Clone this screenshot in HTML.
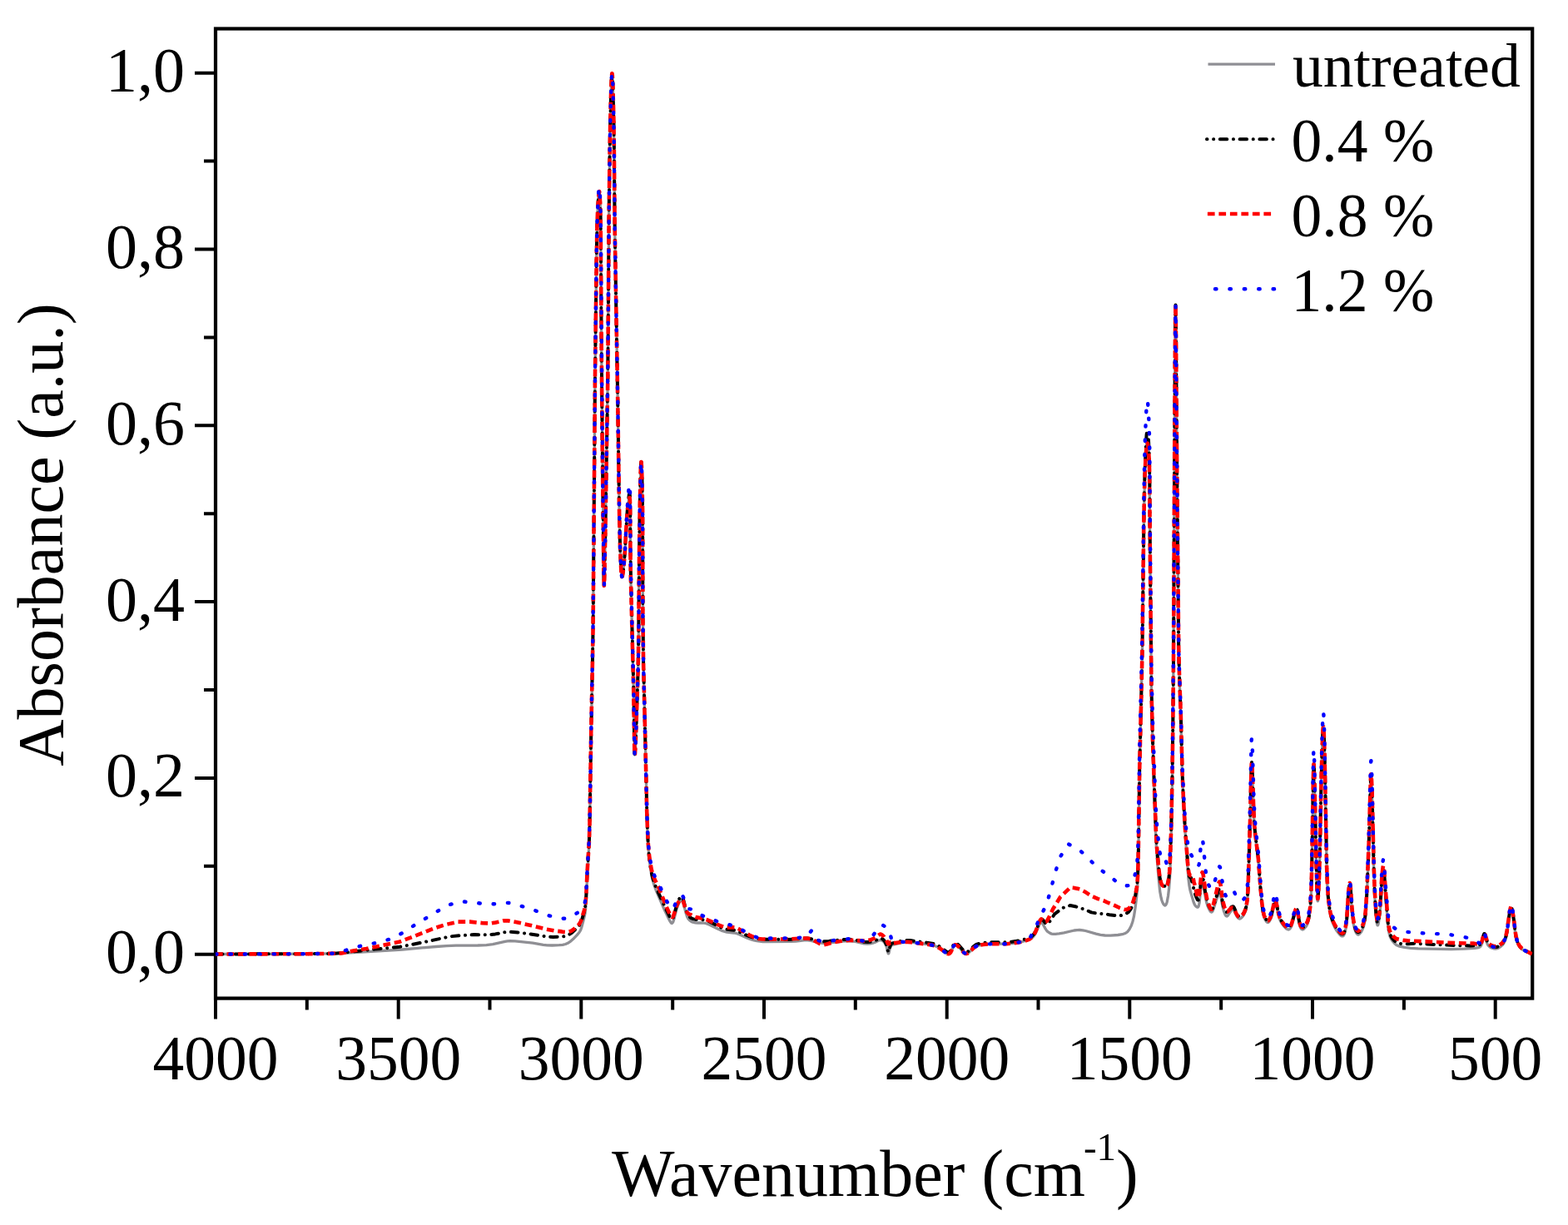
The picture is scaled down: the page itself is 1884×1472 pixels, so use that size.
<!DOCTYPE html><html><head><meta charset="utf-8"><title>FTIR spectra</title><style>html,body{margin:0;padding:0;background:#fff;overflow:hidden}svg{display:block}</style></head><body><svg width="1884" height="1472" viewBox="0 0 1884 1472"><defs><clipPath id="c"><rect x="259.0" y="34.5" width="1582.2" height="1165.1"/></clipPath></defs><rect width="1884" height="1472" fill="#fff"/><rect x="259.0" y="34.5" width="1582.2" height="1165.1" fill="none" stroke="#000" stroke-width="4.2"/><path d="M234.0,1146.7H259.0M245.0,1040.8H259.0M234.0,934.9H259.0M245.0,829.0H259.0M234.0,723.1H259.0M245.0,617.2H259.0M234.0,511.3H259.0M245.0,405.4H259.0M234.0,299.5H259.0M245.0,193.6H259.0M234.0,87.7H259.0M259.0,1199.6V1224.6M368.8,1199.6V1213.6M478.7,1199.6V1224.6M588.5,1199.6V1213.6M698.3,1199.6V1224.6M808.2,1199.6V1213.6M918.0,1199.6V1224.6M1027.8,1199.6V1213.6M1137.7,1199.6V1224.6M1247.5,1199.6V1213.6M1357.3,1199.6V1224.6M1467.2,1199.6V1213.6M1577.0,1199.6V1224.6M1686.9,1199.6V1213.6M1796.7,1199.6V1224.6" stroke="#000" stroke-width="4" fill="none"/><text x="222" y="1169.2" font-family="Liberation Serif, serif" font-size="76" text-anchor="end">0,0</text><text x="222" y="957.4" font-family="Liberation Serif, serif" font-size="76" text-anchor="end">0,2</text><text x="222" y="745.6" font-family="Liberation Serif, serif" font-size="76" text-anchor="end">0,4</text><text x="222" y="533.8" font-family="Liberation Serif, serif" font-size="76" text-anchor="end">0,6</text><text x="222" y="322.0" font-family="Liberation Serif, serif" font-size="76" text-anchor="end">0,8</text><text x="222" y="110.2" font-family="Liberation Serif, serif" font-size="76" text-anchor="end">1,0</text><text x="259.0" y="1297" font-family="Liberation Serif, serif" font-size="75.5" text-anchor="middle">4000</text><text x="478.7" y="1297" font-family="Liberation Serif, serif" font-size="75.5" text-anchor="middle">3500</text><text x="698.3" y="1297" font-family="Liberation Serif, serif" font-size="75.5" text-anchor="middle">3000</text><text x="918.0" y="1297" font-family="Liberation Serif, serif" font-size="75.5" text-anchor="middle">2500</text><text x="1137.7" y="1297" font-family="Liberation Serif, serif" font-size="75.5" text-anchor="middle">2000</text><text x="1357.3" y="1297" font-family="Liberation Serif, serif" font-size="75.5" text-anchor="middle">1500</text><text x="1577.0" y="1297" font-family="Liberation Serif, serif" font-size="75.5" text-anchor="middle">1000</text><text x="1796.7" y="1297" font-family="Liberation Serif, serif" font-size="75.5" text-anchor="middle">500</text><text transform="translate(75,642.5) rotate(-90)" font-family="Liberation Serif, serif" font-size="78" text-anchor="middle">Absorbance (a.u.)</text><text x="735" y="1437.4" font-family="Liberation Serif, serif" font-size="80">Wavenumber (cm<tspan font-size="47" dx="-2" dy="-43.5">-1</tspan><tspan dy="43.5">)</tspan></text><g clip-path="url(#c)"><path d="M259.0,1146.5 370.0,1146.2 395.8,1145.9 412.0,1145.4 433.6,1144.2 483.3,1141.0 523.9,1137.5 536.5,1136.6 547.9,1136.1 574.3,1136.0 584.4,1135.6 592.2,1134.7 606.8,1131.4 609.8,1130.9 612.8,1130.7 618.8,1130.9 633.1,1132.3 640.2,1133.2 652.7,1135.3 657.4,1135.8 663.4,1136.0 671.8,1135.7 676.0,1135.3 679.5,1134.5 682.3,1133.3 684.8,1131.7 688.5,1128.6 693.5,1123.4 696.1,1120.2 697.6,1117.6 699.0,1113.6 701.9,1102.6 703.0,1097.3 703.7,1091.3 704.3,1081.8 705.6,1053.0 707.7,1017.6 708.5,994.9 710.2,884.5 711.9,798.1 712.6,753.7 715.0,450.7 716.7,310.9 717.5,269.5 718.1,253.3 718.9,239.0 719.8,230.6 720.0,230.0 720.2,230.5 720.5,232.2 721.2,244.8 721.7,265.2 722.6,406.8 723.7,526.2 725.5,696.0 725.8,703.8 726.1,699.4 727.4,636.5 730.3,452.3 731.7,255.5 732.6,182.9 733.2,148.7 734.0,115.1 734.7,95.9 735.3,88.2 735.5,88.4 735.8,90.8 736.3,101.0 737.4,143.5 737.8,174.1 738.7,275.5 742.3,485.5 744.1,614.5 745.0,655.3 746.3,685.2 746.8,690.6 747.3,692.9 747.7,692.6 748.0,691.5 748.8,686.1 749.8,676.6 750.7,665.8 752.9,626.3 753.8,613.7 754.6,606.6 755.8,599.5 756.1,598.3 756.5,598.1 756.9,600.5 757.2,612.5 757.4,659.3 757.8,692.3 761.2,826.6 762.3,899.8 762.5,905.8 762.7,907.0 762.9,906.4 763.5,897.5 764.3,877.1 766.7,803.3 767.3,764.9 768.1,661.7 768.7,613.1 769.7,566.9 770.1,556.8 770.4,555.0 770.6,555.6 771.0,562.2 771.4,574.7 772.1,613.1 772.4,739.1 773.1,797.3 775.5,897.5 777.3,977.3 778.0,1000.7 778.9,1018.1 780.0,1031.2 781.4,1043.1 783.2,1053.2 785.4,1061.9 788.2,1069.8 798.9,1094.6 804.7,1106.4 806.3,1109.0 806.8,1109.3 807.3,1109.5 808.2,1108.8 808.8,1107.7 809.9,1104.3 812.6,1093.8 814.5,1088.1 816.0,1084.8 817.2,1082.8 818.0,1081.9 818.5,1081.5 819.1,1081.5 819.9,1082.3 820.9,1084.5 824.0,1096.7 825.5,1101.3 826.6,1103.4 827.7,1104.9 828.9,1106.2 830.4,1107.2 832.5,1108.2 835.5,1108.8 838.5,1109.0 845.1,1109.0 848.6,1109.7 852.5,1111.2 862.7,1116.3 868.2,1118.7 873.4,1120.1 881.8,1121.0 885.3,1121.7 888.6,1123.0 897.9,1127.2 901.9,1128.7 905.9,1129.9 909.4,1130.7 913.0,1131.2 916.6,1131.5 921.3,1131.6 950.1,1131.3 956.1,1131.0 966.3,1129.9 970.5,1129.9 974.6,1130.4 984.5,1132.9 989.3,1133.4 995.3,1133.0 1012.6,1131.1 1017.4,1130.8 1021.6,1130.8 1027.5,1131.4 1038.1,1133.8 1042.3,1134.1 1045.8,1133.8 1048.8,1133.2 1051.6,1132.2 1056.4,1129.8 1058.2,1129.5 1059.3,1129.8 1060.9,1130.7 1062.2,1132.0 1063.6,1133.9 1065.0,1137.2 1066.7,1144.2 1067.3,1145.9 1067.8,1145.8 1068.0,1145.2 1069.2,1139.9 1069.9,1137.7 1070.5,1136.6 1071.4,1135.8 1073.1,1135.2 1083.0,1132.8 1087.1,1132.1 1090.1,1131.9 1094.3,1132.2 1114.0,1134.7 1118.7,1135.5 1122.2,1136.3 1125.0,1137.3 1127.7,1138.6 1130.3,1140.2 1136.4,1145.0 1138.0,1145.9 1139.7,1146.3 1140.8,1145.9 1142.1,1144.6 1143.2,1142.5 1145.4,1137.6 1146.4,1136.1 1147.3,1135.3 1148.5,1135.3 1150.1,1136.0 1151.5,1137.2 1156.6,1143.1 1158.3,1144.8 1159.8,1145.7 1161.6,1146.0 1162.7,1145.6 1164.2,1144.6 1169.8,1139.2 1171.7,1137.7 1173.8,1136.6 1176.7,1135.8 1182.0,1134.9 1188.6,1134.4 1195.2,1134.2 1208.4,1134.2 1215.6,1133.7 1220.9,1133.0 1226.8,1131.8 1232.0,1130.5 1236.0,1129.1 1239.7,1127.1 1241.1,1126.0 1242.6,1124.2 1244.7,1120.5 1249.1,1110.6 1250.1,1109.1 1251.0,1108.5 1251.6,1108.6 1252.1,1108.9 1252.8,1109.9 1256.2,1116.2 1257.2,1117.7 1258.4,1119.1 1260.3,1120.5 1261.8,1121.4 1263.5,1122.1 1265.3,1122.4 1268.3,1122.3 1272.5,1121.9 1278.4,1120.8 1290.7,1118.0 1294.2,1117.6 1297.2,1117.5 1300.8,1117.8 1304.3,1118.5 1317.0,1122.2 1322.3,1123.4 1327.6,1124.0 1334.2,1124.1 1343.2,1123.5 1348.5,1122.7 1351.9,1121.5 1353.5,1120.6 1354.9,1119.4 1357.1,1116.6 1359.3,1112.3 1361.0,1107.2 1362.4,1101.4 1364.0,1091.3 1365.6,1078.8 1366.5,1068.7 1367.1,1057.3 1367.8,1028.5 1369.3,922.9 1372.5,781.3 1374.3,637.4 1374.9,597.8 1375.6,572.6 1376.5,550.4 1377.5,536.0 1377.9,531.9 1378.4,530.1 1378.8,530.3 1379.2,532.1 1380.0,539.8 1380.7,551.8 1381.1,566.2 1381.7,650.2 1383.5,832.6 1384.8,887.2 1388.4,997.5 1389.4,1017.9 1390.5,1035.2 1392.2,1056.8 1393.7,1071.1 1395.1,1078.8 1395.9,1081.7 1396.9,1084.5 1398.1,1086.6 1399.3,1087.9 1399.9,1088.0 1400.4,1087.8 1400.8,1087.3 1401.6,1085.7 1402.3,1083.4 1403.6,1076.3 1404.7,1066.8 1405.5,1055.4 1406.2,1038.6 1407.0,1013.5 1408.3,952.3 1409.2,886.3 1409.9,802.9 1411.7,450.7 1412.1,390.7 1412.5,369.1 1412.9,393.5 1414.2,567.5 1416.2,779.3 1416.8,805.7 1418.9,866.2 1420.3,922.0 1421.5,953.2 1423.2,986.1 1424.6,1008.3 1427.9,1055.6 1428.9,1063.9 1430.0,1069.8 1434.0,1083.6 1435.4,1087.0 1436.7,1088.9 1438.2,1090.0 1438.8,1090.1 1439.4,1090.0 1439.8,1089.6 1440.3,1088.5 1441.2,1084.4 1442.3,1071.9 1443.2,1064.7 1444.2,1060.6 1444.5,1060.1 1445.0,1060.2 1445.5,1061.3 1446.0,1063.6 1448.3,1077.8 1449.8,1084.8 1450.9,1088.3 1452.3,1091.6 1453.7,1094.3 1454.8,1095.6 1455.3,1095.9 1455.9,1096.0 1456.4,1095.6 1457.1,1094.6 1458.2,1091.9 1461.0,1082.7 1462.9,1077.6 1463.9,1075.4 1464.6,1074.5 1465.1,1074.1 1465.6,1074.1 1466.3,1075.1 1466.9,1077.4 1468.9,1088.6 1470.3,1094.4 1472.0,1098.9 1472.6,1100.0 1473.4,1100.8 1474.0,1101.0 1475.0,1100.5 1479.1,1094.5 1480.4,1093.3 1481.5,1093.0 1482.0,1093.2 1482.8,1094.1 1485.3,1099.6 1486.8,1102.2 1488.0,1103.5 1489.1,1104.0 1489.7,1104.0 1491.3,1103.2 1492.9,1101.5 1494.6,1099.0 1495.9,1096.3 1497.3,1091.7 1498.2,1086.4 1499.0,1078.7 1499.6,1068.5 1502.0,989.9 1503.4,928.1 1503.7,920.3 1504.0,918.0 1504.4,921.0 1504.7,928.2 1506.4,977.9 1507.3,994.7 1508.3,1004.9 1511.9,1034.0 1514.5,1068.7 1516.0,1084.9 1517.4,1096.2 1518.8,1102.0 1520.2,1105.3 1521.9,1107.8 1522.9,1108.4 1523.5,1108.5 1524.0,1108.3 1524.9,1107.5 1526.4,1104.9 1527.8,1100.9 1531.2,1085.7 1532.0,1084.1 1532.5,1084.2 1533.0,1085.3 1533.6,1087.6 1536.2,1099.9 1537.8,1105.1 1539.1,1107.8 1541.0,1110.8 1543.2,1113.7 1545.3,1115.8 1546.8,1116.7 1548.0,1117.0 1548.6,1116.9 1549.6,1116.3 1550.7,1114.9 1551.8,1112.8 1552.7,1109.9 1556.3,1096.6 1557.0,1094.9 1557.7,1094.0 1558.2,1094.3 1558.8,1096.0 1561.2,1110.2 1562.0,1113.1 1562.8,1115.3 1564.0,1116.7 1565.1,1117.0 1566.7,1116.2 1568.7,1114.0 1570.0,1112.0 1571.2,1109.3 1572.1,1106.4 1572.9,1102.9 1574.2,1092.8 1575.2,1079.0 1575.7,1064.6 1576.2,1044.8 1577.9,937.4 1578.3,924.3 1578.5,921.3 1578.6,920.9 1579.0,926.8 1579.5,943.0 1581.4,1033.0 1582.2,1064.2 1583.0,1081.0 1583.2,1082.8 1583.5,1082.7 1583.8,1080.4 1584.8,1063.6 1585.7,1033.0 1587.6,938.2 1588.5,904.6 1589.3,882.5 1589.7,877.7 1590.1,876.0 1590.4,878.4 1590.8,885.0 1591.6,909.0 1594.1,1042.1 1594.8,1063.1 1595.7,1078.7 1596.5,1087.1 1597.5,1094.2 1598.6,1100.1 1600.2,1105.9 1602.1,1110.9 1604.2,1115.3 1606.7,1119.3 1609.7,1123.1 1611.1,1124.3 1612.1,1124.9 1613.3,1124.9 1613.8,1124.7 1614.6,1123.8 1615.4,1122.2 1616.7,1117.5 1617.5,1112.8 1618.2,1106.9 1620.3,1074.5 1621.0,1068.0 1621.7,1065.1 1622.0,1065.4 1622.2,1066.0 1622.8,1070.7 1624.5,1095.3 1625.4,1104.8 1626.8,1113.1 1628.5,1118.9 1629.5,1121.0 1630.6,1122.4 1631.6,1123.0 1632.2,1123.0 1633.3,1122.4 1635.3,1120.2 1637.0,1117.0 1638.3,1113.7 1639.4,1109.6 1640.2,1104.3 1641.0,1097.1 1642.3,1076.8 1644.7,1017.4 1646.7,946.1 1647.1,937.1 1647.3,935.3 1647.5,935.2 1648.0,941.8 1648.6,956.8 1650.5,1038.4 1651.5,1069.6 1652.4,1087.0 1653.3,1100.1 1654.2,1108.5 1654.7,1110.8 1655.1,1111.9 1655.6,1111.8 1656.3,1109.5 1657.6,1100.6 1658.6,1089.8 1659.8,1067.1 1660.6,1056.3 1661.6,1047.9 1662.0,1046.2 1662.4,1046.2 1662.7,1048.0 1663.2,1052.2 1664.7,1074.3 1667.6,1110.8 1668.7,1119.7 1670.0,1125.0 1671.8,1128.8 1673.1,1130.7 1675.0,1133.0 1676.7,1134.7 1678.2,1135.8 1681.5,1137.1 1687.4,1138.4 1695.1,1139.3 1704.1,1139.9 1743.7,1140.7 1759.3,1140.2 1771.9,1139.4 1776.6,1138.6 1778.2,1137.9 1779.1,1137.0 1779.7,1136.0 1780.4,1134.4 1782.6,1126.3 1783.3,1124.6 1783.8,1124.7 1784.3,1125.7 1786.3,1132.0 1787.1,1134.3 1788.0,1135.9 1789.2,1137.2 1791.1,1138.6 1794.5,1139.8 1796.9,1140.1 1799.2,1139.7 1800.9,1139.0 1802.4,1138.0 1805.5,1135.2 1807.2,1132.7 1808.8,1128.8 1809.8,1125.4 1810.7,1120.7 1814.0,1096.9 1814.9,1092.8 1815.5,1091.1 1816.0,1091.2 1816.5,1092.3 1817.5,1097.0 1819.0,1107.1 1820.6,1120.8 1821.5,1126.1 1822.6,1130.8 1824.1,1134.7 1825.2,1136.8 1826.2,1138.3 1827.5,1139.6 1828.8,1140.8 1831.9,1142.6 1838.6,1145.4 1840.7,1146.5" stroke="#8f8f94" stroke-width="3.3" fill="none" stroke-linejoin="round"/><path d="M259.0,1146.5 361.0,1146.2 389.8,1146.0 401.8,1145.7 416.8,1144.3 450.3,1140.6 480.3,1137.7 495.2,1134.9 519.7,1129.9 540.1,1125.4 551.5,1124.3 570.1,1123.0 581.5,1123.3 589.8,1123.0 595.1,1122.4 606.2,1120.3 610.4,1119.8 616.4,1119.9 634.9,1122.0 658.0,1125.6 664.6,1125.9 675.4,1125.6 678.4,1125.2 681.2,1124.4 683.8,1123.1 686.3,1121.4 688.9,1119.2 694.6,1113.5 696.4,1111.3 697.8,1108.8 698.8,1106.1 702.2,1094.7 703.0,1090.5 703.7,1085.0 704.3,1076.3 705.6,1048.9 707.8,1013.6 708.5,991.3 710.2,883.1 711.9,797.0 712.6,752.8 715.0,450.5 716.7,310.3 717.5,269.5 718.1,253.3 718.9,239.0 719.8,230.6 720.0,230.0 720.2,230.5 720.5,232.2 721.2,244.8 721.7,265.2 722.6,406.8 723.7,526.2 725.5,696.0 725.8,703.8 726.1,699.4 727.4,636.5 730.3,452.3 731.7,255.5 732.6,182.9 733.2,148.7 734.0,115.1 734.7,95.9 735.3,88.2 735.5,88.4 735.8,90.8 736.3,101.0 737.4,143.5 737.8,174.1 738.7,275.5 742.3,485.5 744.1,614.5 745.0,655.3 746.3,685.2 746.8,690.6 747.3,692.9 747.7,692.6 748.0,691.5 748.9,685.5 749.9,676.0 750.7,665.2 753.0,624.7 753.9,611.3 754.9,601.8 755.8,594.8 756.1,593.4 756.5,593.1 756.9,595.7 757.2,608.2 757.4,655.2 757.9,690.4 761.3,827.8 762.3,899.8 762.5,905.8 762.7,907.0 762.9,906.4 763.5,897.5 764.3,877.1 766.7,803.3 767.3,764.9 768.1,661.7 768.7,613.1 769.7,566.9 770.1,556.8 770.4,555.0 770.6,555.6 771.0,562.2 771.4,574.7 772.1,613.1 772.4,739.1 773.1,797.3 775.5,897.5 777.3,976.3 778.0,999.4 778.9,1016.5 779.9,1029.3 781.4,1040.7 783.2,1050.8 785.4,1058.8 788.2,1066.4 798.2,1088.2 804.7,1101.6 806.3,1104.2 806.8,1104.6 807.3,1104.7 808.2,1104.0 808.8,1103.0 809.9,1099.6 812.6,1089.2 814.5,1083.6 816.0,1080.4 817.2,1078.3 818.0,1077.5 818.5,1077.2 819.1,1077.2 819.9,1078.0 820.9,1080.2 824.0,1092.5 825.8,1097.7 826.9,1099.8 828.0,1101.3 829.4,1102.5 830.9,1103.5 833.1,1104.4 835.5,1104.9 838.5,1105.1 845.1,1105.2 848.6,1105.9 852.5,1107.5 863.2,1113.1 868.8,1115.5 873.4,1116.7 881.8,1117.7 884.7,1118.4 888.1,1119.6 895.7,1123.3 900.2,1125.1 905.3,1126.8 910.0,1127.9 914.2,1128.5 918.9,1128.8 945.3,1128.9 953.7,1128.7 965.7,1127.6 969.9,1127.6 974.6,1128.2 984.5,1130.8 986.9,1131.1 989.9,1131.3 995.9,1130.9 1013.2,1129.0 1021.6,1128.8 1027.5,1129.4 1038.1,1131.8 1042.3,1132.1 1045.8,1131.8 1048.8,1131.2 1051.6,1130.2 1056.4,1127.8 1058.2,1127.5 1059.3,1127.8 1060.9,1128.7 1062.2,1130.0 1063.6,1131.9 1065.0,1135.2 1066.7,1142.2 1067.3,1143.9 1067.8,1143.8 1068.0,1143.2 1069.2,1137.9 1069.9,1135.7 1070.5,1134.6 1071.4,1133.8 1072.5,1133.4 1080.1,1131.4 1086.5,1130.2 1090.1,1129.9 1093.7,1130.1 1115.1,1132.9 1121.6,1134.1 1125.0,1135.3 1127.7,1136.6 1130.3,1138.2 1136.4,1143.0 1138.0,1143.9 1139.7,1144.3 1140.8,1143.9 1141.7,1143.1 1142.9,1141.1 1145.7,1135.1 1146.8,1133.6 1147.9,1133.2 1149.1,1133.4 1150.6,1134.4 1152.7,1136.5 1157.8,1142.4 1159.3,1143.5 1161.0,1144.0 1162.7,1143.6 1164.2,1142.6 1169.8,1137.2 1171.7,1135.7 1173.8,1134.6 1176.7,1133.8 1182.0,1132.9 1188.6,1132.4 1195.2,1132.2 1208.4,1132.2 1215.6,1131.7 1221.5,1130.8 1227.4,1129.6 1232.6,1128.3 1236.5,1126.8 1238.7,1125.8 1240.2,1124.7 1242.6,1121.9 1244.7,1118.1 1248.8,1108.3 1249.7,1106.6 1251.0,1104.8 1251.6,1104.6 1252.1,1104.6 1252.8,1105.1 1256.2,1109.4 1258.0,1110.7 1259.8,1109.0 1262.4,1105.9 1267.1,1098.3 1270.7,1095.7 1276.0,1091.3 1286.0,1088.0 1291.8,1089.2 1297.2,1091.0 1300.8,1092.0 1304.9,1093.5 1311.3,1096.4 1319.9,1097.8 1323.5,1098.0 1327.0,1098.0 1333.0,1099.3 1340.2,1100.2 1343.2,1100.5 1346.8,1100.0 1349.7,1099.4 1352.5,1098.2 1355.3,1096.4 1356.4,1095.4 1358.3,1092.9 1361.2,1087.4 1362.2,1084.8 1363.0,1081.9 1365.0,1071.7 1366.0,1065.2 1366.7,1057.5 1367.2,1047.4 1367.9,1020.2 1369.3,919.2 1371.7,819.6 1372.5,778.2 1374.3,632.0 1374.9,591.4 1375.7,564.1 1376.6,539.1 1377.5,523.6 1377.9,519.3 1378.4,517.1 1378.8,517.4 1379.1,518.8 1379.9,527.5 1380.6,541.5 1381.1,557.9 1381.4,577.1 1381.7,645.0 1383.5,828.9 1385.0,889.1 1388.5,989.9 1389.4,1009.0 1390.6,1025.3 1392.6,1046.5 1393.8,1056.2 1394.4,1059.0 1395.2,1061.5 1396.1,1063.3 1396.9,1064.4 1397.7,1065.0 1398.4,1065.1 1399.3,1064.8 1399.9,1064.2 1401.1,1065.0 1401.6,1064.9 1402.0,1064.5 1402.6,1063.3 1403.2,1061.2 1404.4,1054.9 1405.2,1047.4 1405.8,1037.6 1407.3,994.1 1408.5,932.5 1409.3,871.9 1410.0,793.4 1411.7,448.6 1412.1,388.6 1412.5,366.5 1412.9,390.9 1414.2,565.6 1416.2,777.7 1416.8,804.1 1418.9,862.9 1420.5,928.0 1422.0,961.3 1423.6,990.4 1428.0,1048.2 1428.6,1051.4 1429.2,1053.4 1429.9,1054.4 1430.3,1054.6 1430.9,1054.6 1431.1,1054.9 1435.7,1073.3 1437.2,1077.7 1438.8,1081.2 1439.4,1081.6 1439.8,1081.4 1440.3,1080.6 1440.8,1079.1 1441.3,1075.7 1442.9,1060.3 1443.7,1055.9 1444.2,1054.4 1444.5,1054.0 1445.0,1054.3 1445.8,1056.9 1448.4,1073.7 1450.2,1081.7 1451.3,1085.4 1452.8,1089.0 1454.0,1091.3 1455.3,1092.8 1455.9,1092.9 1456.4,1092.6 1457.4,1090.9 1458.4,1088.0 1463.4,1071.5 1464.6,1068.7 1465.1,1068.1 1465.6,1068.0 1466.3,1069.1 1466.8,1071.0 1468.8,1083.1 1470.0,1088.6 1471.5,1093.1 1472.2,1094.6 1472.9,1095.5 1474.0,1096.0 1475.0,1095.6 1479.1,1090.4 1480.4,1089.4 1481.5,1089.2 1482.0,1089.5 1482.8,1090.6 1485.3,1096.4 1486.8,1099.3 1487.5,1100.3 1488.5,1101.2 1489.7,1101.5 1491.3,1100.8 1492.9,1099.2 1494.9,1096.3 1496.1,1093.6 1497.3,1089.6 1498.3,1083.7 1499.0,1076.0 1499.6,1065.9 1502.0,987.9 1503.4,926.1 1503.7,918.3 1504.0,916.0 1504.4,919.0 1504.7,926.1 1506.4,975.9 1507.3,992.7 1508.3,1002.8 1511.9,1032.0 1514.5,1066.7 1516.0,1082.8 1517.4,1094.1 1518.8,1099.9 1520.2,1103.2 1521.9,1105.7 1522.9,1106.3 1523.5,1106.4 1524.0,1106.2 1524.9,1105.3 1526.4,1102.7 1527.8,1098.7 1531.2,1083.5 1532.0,1081.9 1532.5,1082.0 1533.0,1083.1 1533.6,1085.4 1536.2,1097.7 1537.8,1102.9 1539.1,1105.6 1541.0,1108.6 1543.2,1111.5 1545.3,1113.5 1546.8,1114.5 1548.0,1114.7 1548.6,1114.7 1549.6,1114.1 1550.7,1112.6 1551.8,1110.5 1552.7,1107.6 1556.3,1094.3 1557.0,1092.6 1557.7,1091.7 1558.2,1092.0 1558.8,1093.7 1561.2,1107.9 1562.0,1110.8 1562.8,1113.0 1564.0,1114.4 1565.1,1114.6 1566.7,1113.9 1568.7,1111.7 1570.0,1109.6 1571.2,1106.9 1572.1,1104.0 1572.9,1100.5 1574.2,1090.4 1575.2,1076.6 1575.7,1062.2 1576.2,1042.4 1577.9,935.0 1578.3,921.8 1578.5,918.8 1578.6,918.4 1579.0,924.4 1579.5,940.6 1581.4,1030.6 1582.2,1061.7 1583.0,1078.5 1583.2,1080.3 1583.5,1080.3 1583.8,1077.9 1584.8,1061.1 1585.7,1030.5 1587.6,935.7 1588.5,902.2 1589.3,880.0 1589.7,875.2 1590.1,873.5 1590.4,875.9 1590.8,882.5 1591.6,906.5 1594.1,1039.6 1594.8,1060.6 1595.7,1076.2 1596.5,1084.5 1597.5,1091.7 1598.6,1097.5 1600.2,1103.3 1602.1,1108.4 1604.2,1112.7 1606.7,1116.7 1609.7,1120.4 1611.1,1121.7 1612.1,1122.2 1613.3,1122.3 1613.8,1122.0 1614.6,1121.1 1615.4,1119.5 1616.7,1114.9 1617.5,1110.2 1618.2,1104.2 1620.3,1071.9 1621.0,1065.3 1621.7,1062.4 1622.0,1062.7 1622.2,1063.3 1622.8,1068.0 1624.5,1092.6 1625.4,1102.1 1626.8,1110.4 1628.5,1116.1 1629.5,1118.3 1630.6,1119.7 1631.6,1120.3 1632.2,1120.2 1633.3,1119.7 1635.3,1117.4 1637.0,1114.3 1638.3,1110.9 1639.4,1106.8 1640.2,1101.5 1641.0,1094.4 1642.3,1074.0 1644.7,1014.6 1646.7,943.2 1647.1,934.2 1647.3,932.5 1647.5,932.4 1648.0,939.0 1648.6,954.0 1650.5,1035.6 1651.5,1066.7 1652.4,1084.1 1653.3,1097.3 1654.2,1105.6 1654.7,1108.0 1655.1,1109.1 1655.6,1108.9 1656.3,1106.6 1657.6,1097.7 1658.6,1086.9 1659.8,1064.2 1660.6,1053.4 1661.6,1045.0 1662.0,1043.3 1662.4,1043.3 1662.7,1045.1 1663.2,1049.3 1664.7,1071.4 1667.6,1107.9 1668.7,1116.8 1670.0,1122.0 1671.8,1125.8 1673.1,1127.8 1675.0,1130.1 1676.7,1131.7 1678.2,1132.8 1680.4,1133.7 1685.6,1134.2 1692.2,1134.2 1699.9,1133.7 1707.7,1134.2 1749.7,1136.1 1766.5,1136.4 1774.8,1136.0 1776.6,1135.7 1777.7,1135.3 1778.7,1134.6 1779.4,1133.7 1780.6,1131.0 1782.6,1123.6 1783.3,1122.0 1783.8,1122.0 1784.3,1123.1 1786.3,1129.5 1787.1,1131.8 1788.0,1133.4 1789.2,1134.8 1791.1,1136.2 1794.5,1137.6 1796.9,1138.0 1799.2,1137.7 1800.9,1137.0 1802.4,1136.1 1804.2,1134.7 1805.5,1133.4 1807.2,1131.0 1808.8,1127.2 1809.8,1123.8 1810.7,1119.2 1814.0,1095.6 1814.9,1091.5 1815.5,1089.9 1816.0,1090.0 1816.5,1091.1 1817.5,1095.8 1819.0,1106.0 1820.6,1119.8 1821.5,1125.1 1822.6,1129.9 1824.1,1133.9 1825.2,1136.0 1826.2,1137.6 1828.8,1140.2 1831.9,1142.1 1838.6,1145.3 1840.7,1146.5" stroke="#000" stroke-width="4" fill="none" stroke-dasharray="8.5 7.6 0.1 7.6" stroke-linecap="round" stroke-linejoin="round"/><path d="M259.0,1146.5 368.8,1146.2 395.2,1145.9 410.2,1145.4 425.8,1142.2 440.1,1140.0 479.7,1131.8 498.2,1124.8 521.5,1115.5 535.3,1111.1 550.3,1107.6 564.7,1107.6 580.3,1109.2 589.8,1109.5 595.7,1108.5 605.1,1106.3 611.0,1106.4 618.8,1107.8 636.7,1111.7 656.3,1116.6 666.4,1118.4 674.8,1119.4 677.8,1119.9 680.1,1120.1 682.3,1119.9 684.8,1119.3 686.3,1118.7 688.5,1117.3 694.3,1112.5 696.1,1110.2 697.6,1107.6 698.6,1104.8 702.2,1093.2 703.0,1089.1 703.7,1083.7 704.3,1075.2 705.6,1047.3 707.8,1012.7 708.5,991.0 710.2,881.6 711.9,796.1 712.6,752.0 715.0,450.2 716.7,310.3 717.5,269.5 718.1,253.3 719.0,238.4 719.8,230.6 720.0,230.0 720.2,230.5 720.5,232.2 721.2,244.8 721.7,265.2 722.6,406.2 723.6,524.4 725.5,696.0 725.8,703.8 726.1,700.0 727.4,637.1 730.3,452.9 731.7,255.5 732.6,182.9 733.2,148.7 734.0,115.1 734.7,95.9 735.3,88.2 735.5,88.4 735.8,90.8 736.3,101.0 737.4,143.5 737.8,174.1 738.7,275.5 742.3,485.5 744.1,615.1 745.0,655.9 746.3,685.8 746.8,690.6 747.3,692.9 747.7,692.6 748.0,691.5 748.8,686.1 749.8,676.6 750.7,665.8 752.9,626.3 753.8,613.7 754.6,606.6 755.8,599.5 756.1,598.3 756.5,598.1 756.9,600.5 757.2,612.5 757.4,659.3 757.8,692.3 761.2,826.6 762.3,899.8 762.5,905.8 762.7,907.0 762.9,906.4 763.5,897.5 764.3,877.1 766.7,803.3 767.3,764.9 768.1,661.7 768.7,613.1 769.7,566.9 770.1,556.8 770.4,555.0 770.6,555.6 771.0,562.2 771.4,574.7 772.1,613.1 772.4,739.1 773.1,797.3 775.5,896.9 777.2,974.8 778.0,997.5 778.8,1014.0 779.8,1025.6 781.0,1035.1 782.8,1044.9 784.7,1051.9 786.9,1057.4 790.1,1063.2 800.4,1088.9 805.0,1098.9 805.9,1100.6 806.8,1101.6 807.3,1102.0 807.9,1102.0 808.8,1101.1 809.9,1098.4 812.6,1089.6 814.1,1086.0 815.5,1083.6 816.5,1082.1 817.6,1081.3 818.5,1081.2 819.9,1081.6 820.7,1082.6 821.5,1084.8 823.5,1091.4 824.7,1094.6 826.0,1097.0 827.7,1098.4 828.9,1098.9 829.8,1099.0 832.5,1100.7 835.5,1101.9 838.5,1102.6 845.1,1104.0 850.9,1105.8 854.1,1107.2 863.8,1111.7 869.3,1113.7 871.6,1114.3 873.4,1114.4 881.2,1114.3 884.1,1114.4 887.5,1116.1 895.7,1121.0 900.7,1123.8 906.5,1126.3 911.2,1128.0 916.0,1128.5 921.9,1128.6 947.1,1128.4 965.7,1127.5 970.5,1127.6 972.9,1128.0 975.8,1128.7 985.1,1134.0 989.9,1135.3 993.5,1134.5 1000.1,1132.5 1009.0,1131.0 1015.0,1130.3 1019.8,1129.9 1026.9,1129.9 1038.7,1130.6 1042.9,1130.2 1046.4,1129.2 1049.9,1127.8 1052.1,1126.4 1056.4,1123.2 1057.6,1122.6 1058.2,1122.5 1059.3,1123.0 1060.4,1123.8 1062.2,1125.7 1063.9,1128.4 1065.2,1129.8 1066.7,1133.7 1067.1,1134.2 1067.3,1134.3 1068.1,1134.2 1069.0,1132.8 1069.5,1132.4 1070.2,1132.7 1070.9,1134.0 1073.1,1133.5 1081.8,1132.3 1085.4,1132.0 1090.7,1131.9 1094.3,1132.2 1116.9,1135.1 1122.2,1136.3 1126.7,1138.0 1130.3,1140.2 1136.9,1145.3 1138.5,1146.1 1139.7,1146.3 1140.8,1145.9 1142.1,1144.6 1143.2,1142.5 1145.4,1137.6 1146.4,1136.1 1147.3,1135.3 1148.5,1135.3 1150.1,1136.0 1151.5,1137.2 1156.6,1143.1 1158.3,1144.8 1159.8,1145.7 1161.0,1146.0 1162.7,1145.6 1164.2,1144.6 1169.8,1139.2 1171.7,1137.7 1173.8,1136.6 1176.1,1135.9 1181.4,1135.0 1188.6,1134.4 1195.2,1134.2 1209.0,1134.2 1216.2,1133.6 1222.1,1132.7 1228.5,1131.4 1233.7,1129.9 1237.1,1128.6 1239.2,1126.8 1240.6,1125.3 1243.0,1122.0 1245.0,1117.7 1248.5,1108.4 1250.1,1105.4 1251.0,1104.5 1252.1,1105.5 1253.2,1107.1 1255.3,1107.5 1256.5,1107.5 1258.0,1106.7 1261.3,1100.7 1265.3,1091.9 1268.9,1086.4 1273.6,1078.5 1274.2,1077.7 1286.0,1066.5 1289.5,1066.8 1293.0,1067.4 1296.0,1068.1 1299.0,1069.1 1303.8,1071.7 1311.3,1076.7 1319.3,1080.1 1325.8,1082.1 1331.2,1084.7 1339.0,1087.9 1345.0,1090.8 1348.5,1092.2 1351.4,1093.0 1353.5,1092.9 1355.3,1092.3 1357.1,1090.9 1359.7,1087.6 1361.0,1085.0 1362.0,1082.1 1364.6,1072.8 1365.6,1068.0 1366.3,1063.2 1367.2,1050.2 1367.8,1022.6 1369.3,919.4 1371.7,820.5 1372.5,780.0 1374.2,636.3 1374.9,597.1 1375.5,573.2 1376.4,552.8 1377.4,538.5 1377.9,534.2 1378.4,532.6 1378.8,532.7 1379.2,534.2 1380.0,541.5 1380.7,552.4 1381.1,565.6 1381.7,649.4 1383.5,831.1 1385.0,890.2 1388.6,992.1 1389.5,1010.5 1390.6,1026.2 1392.6,1046.6 1393.8,1056.1 1395.1,1061.0 1395.9,1062.7 1396.7,1063.9 1397.5,1064.5 1398.1,1064.7 1398.8,1064.6 1399.9,1063.7 1401.1,1064.7 1401.6,1064.6 1402.0,1064.2 1402.6,1063.2 1403.2,1061.1 1404.4,1054.9 1405.2,1047.4 1405.8,1037.6 1407.3,994.1 1408.5,932.5 1409.3,871.9 1410.0,793.4 1411.7,448.6 1412.1,388.6 1412.5,366.5 1412.9,390.9 1414.2,565.6 1416.2,777.7 1416.8,804.1 1418.9,862.7 1420.6,929.3 1422.0,961.2 1423.5,988.9 1427.0,1037.0 1427.8,1044.6 1428.5,1048.9 1429.4,1051.3 1430.6,1052.2 1432.9,1052.0 1433.0,1052.2 1434.6,1060.0 1436.0,1065.0 1438.2,1074.9 1439.4,1079.0 1439.8,1078.5 1440.3,1077.3 1440.9,1074.9 1442.9,1055.4 1443.7,1050.6 1444.5,1048.2 1445.0,1048.4 1445.8,1051.6 1448.4,1070.6 1450.0,1079.4 1451.3,1084.1 1452.8,1088.2 1454.0,1090.9 1455.3,1092.8 1455.9,1092.7 1457.4,1089.2 1463.1,1065.0 1464.6,1060.5 1465.1,1059.5 1465.6,1059.5 1466.3,1061.8 1466.8,1064.5 1468.9,1080.4 1469.7,1084.4 1471.5,1091.0 1472.6,1093.6 1473.4,1094.8 1474.0,1095.3 1474.5,1095.4 1475.0,1095.3 1475.8,1094.7 1478.0,1092.2 1479.1,1091.3 1480.4,1090.7 1481.5,1090.9 1482.0,1091.2 1482.8,1092.1 1485.3,1097.6 1486.8,1100.2 1488.0,1101.5 1489.1,1102.0 1489.7,1102.0 1491.3,1101.2 1492.9,1099.5 1494.6,1097.0 1495.9,1094.3 1497.3,1089.7 1498.2,1084.4 1499.0,1076.7 1499.6,1066.5 1502.0,987.9 1503.4,926.1 1503.7,918.3 1504.0,916.0 1504.4,918.9 1504.7,926.1 1506.4,975.9 1507.3,992.6 1508.3,1002.8 1511.9,1031.9 1514.5,1066.6 1516.0,1082.7 1517.4,1094.0 1518.8,1099.8 1520.2,1103.1 1521.9,1105.6 1522.9,1106.2 1523.5,1106.3 1524.0,1106.0 1524.9,1105.2 1526.4,1102.6 1527.8,1098.6 1531.2,1083.4 1532.0,1081.8 1532.5,1081.9 1533.0,1082.9 1533.6,1085.3 1536.2,1097.6 1537.8,1102.7 1539.1,1105.4 1541.0,1108.4 1543.2,1111.3 1545.3,1113.3 1546.8,1114.3 1548.0,1114.5 1548.6,1114.4 1549.6,1113.8 1550.7,1112.4 1551.8,1110.2 1552.7,1107.4 1556.3,1094.0 1557.0,1092.4 1557.7,1091.4 1558.2,1091.7 1558.8,1093.4 1561.2,1107.6 1562.0,1110.5 1562.8,1112.7 1564.0,1114.1 1565.1,1114.3 1566.7,1113.6 1568.7,1111.3 1570.0,1109.3 1571.2,1106.6 1572.1,1103.7 1572.9,1100.2 1574.2,1090.0 1575.2,1076.3 1575.7,1061.9 1576.2,1042.1 1577.9,934.7 1578.3,921.5 1578.5,918.5 1578.6,918.1 1579.0,924.0 1579.5,940.2 1581.4,1030.2 1582.2,1061.4 1583.0,1078.1 1583.2,1079.9 1583.5,1079.9 1583.8,1077.5 1584.8,1060.8 1585.7,1030.2 1587.6,935.4 1588.5,901.8 1589.3,879.6 1589.7,874.8 1590.1,873.1 1590.4,875.5 1590.8,882.1 1591.6,906.0 1594.0,1038.6 1594.8,1059.6 1595.7,1075.1 1596.5,1083.5 1597.4,1090.6 1598.5,1096.5 1600.0,1102.3 1601.8,1107.3 1603.9,1111.6 1606.4,1115.5 1609.3,1119.2 1611.1,1120.8 1612.1,1121.4 1613.3,1121.4 1613.8,1121.1 1614.6,1120.1 1615.4,1118.5 1616.7,1113.8 1617.5,1109.1 1618.2,1103.1 1620.3,1070.7 1621.0,1064.1 1621.7,1061.1 1622.0,1061.4 1622.2,1062.0 1622.8,1066.7 1624.5,1091.2 1625.4,1100.7 1626.8,1109.0 1628.5,1114.6 1629.5,1116.8 1630.6,1118.1 1631.6,1118.6 1632.2,1118.6 1633.3,1118.0 1635.3,1115.7 1637.0,1112.5 1638.3,1109.0 1639.4,1104.9 1640.2,1099.6 1641.0,1092.4 1642.3,1072.0 1644.7,1012.5 1646.7,941.1 1647.1,932.0 1647.3,930.2 1647.5,930.2 1648.0,936.8 1648.6,951.7 1650.5,1033.2 1651.5,1064.4 1652.4,1081.7 1653.3,1094.8 1654.2,1103.1 1654.7,1105.5 1655.1,1106.6 1655.6,1106.4 1656.3,1104.1 1657.6,1095.1 1658.6,1084.3 1659.8,1061.5 1660.6,1050.7 1661.6,1042.3 1662.0,1040.5 1662.4,1040.6 1662.7,1042.3 1663.2,1046.5 1664.7,1068.5 1667.6,1104.9 1668.6,1113.2 1669.8,1118.4 1671.2,1121.5 1673.5,1124.5 1676.7,1127.4 1678.7,1128.3 1682.7,1129.3 1686.2,1129.9 1691.0,1130.3 1749.1,1133.2 1770.1,1133.6 1774.8,1134.5 1777.2,1134.6 1778.7,1134.1 1779.4,1133.4 1780.0,1132.5 1781.0,1129.7 1782.6,1123.3 1783.3,1121.6 1783.8,1121.7 1784.3,1122.7 1786.3,1129.0 1787.1,1131.3 1788.0,1132.9 1789.2,1134.2 1791.1,1135.6 1793.9,1136.7 1796.3,1137.1 1798.7,1136.9 1801.9,1135.5 1805.1,1133.0 1807.2,1130.2 1808.6,1127.0 1809.6,1123.6 1810.6,1119.0 1814.0,1094.9 1814.9,1090.9 1815.5,1089.2 1816.0,1089.4 1816.5,1090.5 1817.5,1095.3 1819.0,1105.5 1820.6,1119.3 1821.5,1124.7 1822.6,1129.4 1824.1,1133.5 1825.2,1135.7 1826.2,1137.2 1828.8,1139.9 1831.9,1141.9 1838.6,1145.2 1840.7,1146.5" stroke="#f00" stroke-width="4.6" fill="none" stroke-dasharray="8.7 4.8" stroke-linecap="butt" stroke-linejoin="round"/><path d="M259.0,1146.5 359.2,1146.3 387.4,1146.0 404.8,1145.7 414.4,1142.2 433.0,1136.8 450.9,1133.2 468.9,1128.5 485.0,1120.3 501.8,1109.2 519.7,1098.7 537.1,1088.0 553.9,1083.1 580.3,1085.8 587.4,1086.3 591.0,1086.4 594.6,1086.2 608.0,1084.7 612.8,1085.1 620.0,1086.9 633.7,1090.9 642.0,1093.8 653.9,1098.4 658.6,1100.0 664.6,1101.5 671.2,1102.9 675.4,1103.6 678.4,1103.8 681.7,1103.4 684.8,1102.4 687.2,1101.1 690.2,1099.0 695.0,1096.1 696.7,1094.7 697.6,1093.7 698.6,1091.7 700.0,1088.1 701.5,1086.6 702.3,1085.4 703.0,1083.6 703.5,1080.9 704.3,1072.3 705.5,1046.7 707.9,1008.9 708.8,975.7 710.2,883.4 712.5,755.0 715.1,441.8 716.7,306.3 717.6,264.5 718.9,235.7 719.4,228.3 720.0,225.0 720.2,225.5 720.4,226.8 720.9,233.4 721.7,257.7 723.6,515.7 725.5,694.2 725.7,702.6 725.8,703.8 725.9,703.6 726.4,686.2 727.3,643.1 730.2,454.7 731.7,254.3 732.6,181.7 733.2,148.1 734.1,114.5 734.7,95.3 735.3,88.2 735.5,88.4 735.8,90.8 736.3,101.0 737.4,143.5 737.8,174.1 738.7,275.5 742.3,485.5 744.1,615.1 745.0,655.9 746.3,685.8 746.9,691.8 747.3,692.9 747.7,692.6 748.4,689.1 749.4,681.4 750.9,662.1 753.3,616.8 754.4,599.9 755.3,589.4 756.0,583.4 756.1,582.5 756.5,582.1 756.8,584.3 757.2,597.5 757.4,646.7 757.9,684.6 761.3,829.2 762.3,899.1 762.5,905.8 762.7,907.0 762.9,906.4 763.5,897.5 764.3,877.1 766.7,803.3 767.3,764.9 768.1,661.7 768.7,613.1 769.7,566.9 770.1,556.8 770.4,555.0 770.6,555.6 771.0,562.2 771.4,574.7 772.1,613.1 772.4,739.1 773.1,797.3 777.2,972.9 777.9,995.2 778.8,1011.2 779.6,1021.8 780.8,1030.7 782.6,1040.9 784.7,1048.5 786.9,1053.5 790.1,1058.7 799.9,1080.8 804.7,1089.1 805.9,1090.8 807.9,1092.4 808.2,1092.4 808.8,1092.1 809.9,1090.2 812.0,1084.8 813.5,1081.4 815.2,1078.4 816.5,1076.9 817.6,1076.2 818.5,1076.3 819.1,1076.7 819.6,1076.5 819.9,1076.6 820.5,1077.1 821.2,1078.6 823.8,1086.4 824.9,1088.9 825.8,1090.5 826.6,1091.4 827.7,1092.1 828.9,1092.4 829.8,1092.4 832.5,1094.7 835.5,1096.5 838.5,1098.0 844.5,1100.5 848.0,1102.5 852.5,1103.6 862.1,1107.3 866.0,1108.6 868.8,1109.3 872.2,1109.9 875.2,1110.9 881.8,1112.5 884.1,1113.3 887.5,1114.9 895.7,1120.0 900.7,1122.7 906.5,1125.3 911.2,1127.0 915.4,1127.4 919.5,1127.6 943.5,1127.4 951.3,1127.3 967.5,1126.4 969.3,1125.8 970.5,1124.9 971.7,1123.4 974.1,1119.3 975.2,1118.0 975.8,1117.9 976.4,1118.2 977.6,1119.7 980.4,1126.1 982.2,1128.8 983.9,1130.2 986.3,1130.9 989.9,1131.4 992.3,1131.2 1012.0,1128.7 1021.0,1128.2 1026.9,1128.6 1036.3,1130.5 1039.9,1131.0 1041.7,1129.9 1044.7,1127.7 1049.3,1123.5 1051.6,1120.6 1057.0,1112.6 1058.2,1111.5 1059.3,1111.4 1061.3,1112.0 1062.6,1112.9 1063.9,1114.5 1064.8,1114.6 1065.2,1114.8 1066.7,1117.4 1067.8,1117.9 1068.1,1119.0 1069.5,1121.6 1070.9,1127.8 1074.8,1131.6 1075.4,1131.7 1083.0,1131.6 1087.7,1132.0 1093.1,1132.0 1114.0,1134.7 1119.9,1135.7 1123.9,1136.8 1127.2,1138.3 1130.3,1140.2 1136.9,1145.3 1138.5,1146.1 1139.7,1146.3 1140.8,1145.9 1142.1,1144.6 1143.2,1142.5 1145.4,1137.6 1146.4,1136.1 1147.3,1135.3 1148.5,1135.3 1150.1,1136.0 1151.5,1137.2 1156.6,1143.1 1158.3,1144.8 1159.8,1145.7 1161.6,1146.0 1163.2,1145.3 1164.7,1144.3 1169.3,1139.6 1171.2,1138.1 1173.2,1136.9 1176.1,1135.9 1181.4,1135.0 1188.6,1134.4 1195.2,1134.2 1209.0,1134.2 1216.2,1133.6 1222.7,1132.6 1229.1,1131.2 1234.3,1129.7 1236.5,1128.8 1237.1,1128.5 1239.7,1122.9 1241.5,1118.5 1243.3,1116.2 1244.7,1113.6 1248.8,1104.3 1250.1,1102.3 1251.0,1101.6 1252.8,1095.9 1255.9,1090.0 1257.6,1085.9 1260.3,1077.0 1268.3,1047.4 1273.1,1030.9 1283.0,1014.9 1283.6,1014.2 1292.4,1018.6 1295.4,1020.5 1298.4,1022.6 1304.3,1028.0 1315.9,1039.8 1319.9,1043.2 1324.1,1046.3 1327.6,1048.8 1331.8,1051.3 1343.8,1061.7 1348.5,1063.7 1351.9,1064.4 1356.1,1064.1 1357.4,1063.5 1358.5,1062.5 1361.0,1059.3 1362.2,1056.9 1363.2,1053.6 1364.8,1045.9 1365.7,1040.9 1366.4,1035.2 1367.3,1019.8 1367.9,994.0 1369.3,896.3 1371.7,796.6 1372.5,755.7 1374.3,605.5 1375.0,562.5 1375.7,532.6 1376.8,504.0 1377.6,488.4 1377.9,484.1 1378.4,481.7 1378.8,481.9 1379.1,483.6 1379.8,493.2 1380.6,509.7 1381.1,527.3 1381.4,548.1 1381.7,619.0 1383.5,806.1 1385.0,866.9 1388.5,964.4 1389.4,982.5 1390.6,997.8 1392.5,1016.5 1393.9,1026.3 1395.1,1030.2 1395.7,1031.4 1396.5,1032.4 1397.5,1032.9 1398.4,1032.8 1399.3,1032.1 1399.9,1031.2 1401.4,1036.8 1402.0,1038.4 1402.8,1039.5 1403.2,1039.5 1403.6,1039.1 1404.2,1038.0 1404.6,1036.4 1405.3,1031.5 1405.9,1023.1 1406.6,1009.3 1407.9,964.7 1408.8,906.4 1410.0,779.0 1411.7,448.7 1412.1,388.7 1412.5,367.1 1412.7,372.9 1412.9,394.5 1414.7,621.9 1416.1,766.0 1416.5,792.6 1418.8,856.2 1420.3,914.9 1422.1,954.2 1424.0,985.3 1427.6,1018.4 1428.2,1022.4 1428.9,1024.4 1429.4,1025.0 1430.0,1024.8 1431.1,1027.0 1434.4,1032.4 1435.1,1032.9 1436.0,1033.0 1437.7,1037.4 1438.8,1039.6 1439.4,1040.3 1439.8,1040.4 1440.1,1040.2 1440.7,1038.7 1441.2,1035.7 1442.3,1022.0 1443.2,1013.5 1443.8,1010.0 1444.2,1008.9 1444.5,1008.6 1445.0,1009.6 1445.8,1014.8 1448.3,1043.6 1450.0,1057.0 1451.8,1062.5 1453.1,1065.2 1454.0,1066.8 1454.8,1067.6 1455.3,1067.9 1455.9,1068.0 1456.8,1067.2 1457.4,1066.1 1459.1,1061.0 1463.9,1043.6 1464.6,1041.8 1465.1,1041.2 1465.6,1041.5 1466.0,1042.3 1466.7,1045.0 1468.9,1061.7 1470.3,1069.1 1471.7,1074.0 1472.6,1076.1 1473.4,1077.4 1474.0,1077.9 1474.5,1078.0 1475.8,1077.4 1479.1,1072.3 1480.4,1070.9 1481.5,1070.5 1482.0,1070.6 1482.8,1071.5 1485.5,1077.2 1487.5,1080.4 1488.5,1081.6 1489.7,1082.5 1490.2,1082.6 1491.3,1082.6 1492.6,1082.1 1494.3,1080.6 1495.7,1078.7 1496.5,1077.0 1497.2,1075.1 1498.1,1070.1 1499.0,1062.2 1499.6,1050.7 1502.0,966.6 1503.4,898.8 1503.7,889.4 1504.0,887.0 1504.4,891.1 1504.9,902.6 1506.6,962.8 1507.7,983.3 1508.9,997.6 1512.0,1026.0 1514.5,1059.9 1515.9,1076.0 1517.3,1088.5 1518.0,1092.3 1518.8,1095.5 1520.2,1099.3 1521.1,1100.9 1522.4,1102.2 1523.5,1102.6 1524.0,1102.4 1524.9,1101.7 1525.6,1100.7 1526.8,1097.8 1527.9,1094.0 1529.0,1088.3 1530.9,1076.4 1531.4,1074.0 1532.0,1072.5 1532.5,1072.7 1533.2,1075.0 1535.8,1091.5 1536.5,1095.1 1537.4,1098.4 1538.3,1100.8 1539.7,1103.5 1541.7,1106.6 1543.6,1109.0 1545.8,1111.1 1547.4,1111.9 1548.0,1112.0 1549.2,1111.7 1550.4,1110.4 1551.5,1108.3 1552.6,1105.5 1556.3,1091.6 1557.0,1089.9 1557.7,1089.0 1558.2,1089.3 1558.5,1089.9 1558.9,1091.6 1561.1,1104.6 1561.8,1107.5 1562.6,1109.8 1563.5,1111.3 1564.5,1112.0 1565.1,1112.0 1566.7,1110.7 1568.4,1108.5 1570.0,1105.5 1571.2,1102.4 1572.3,1098.6 1573.0,1094.8 1573.7,1089.6 1574.9,1074.9 1575.5,1060.8 1576.0,1042.5 1577.8,923.2 1578.2,905.6 1578.4,901.9 1578.6,900.9 1579.0,907.4 1579.5,924.8 1581.3,1020.4 1582.2,1054.1 1583.0,1072.4 1583.2,1074.4 1583.5,1074.5 1583.8,1072.2 1584.8,1054.8 1585.8,1023.1 1587.7,920.7 1588.6,883.6 1589.4,862.6 1589.8,857.2 1590.1,856.0 1590.4,858.7 1590.8,865.5 1591.5,890.7 1594.0,1031.3 1594.8,1054.2 1595.7,1070.0 1596.5,1079.1 1597.5,1086.5 1598.6,1092.6 1600.2,1098.6 1602.1,1104.0 1604.5,1109.3 1607.1,1113.8 1610.1,1118.0 1612.1,1119.7 1612.7,1120.0 1613.3,1119.9 1613.8,1119.7 1614.6,1118.8 1615.4,1117.2 1616.8,1112.0 1617.7,1106.6 1618.4,1099.5 1620.6,1067.1 1621.1,1062.4 1621.7,1060.1 1622.0,1060.4 1622.2,1061.0 1622.7,1065.1 1624.5,1090.3 1625.5,1100.4 1626.9,1108.7 1627.7,1111.6 1628.7,1114.4 1629.8,1116.5 1630.2,1117.0 1631.1,1117.5 1632.2,1117.3 1633.8,1115.9 1635.6,1113.0 1637.3,1109.3 1638.5,1105.6 1639.5,1101.2 1640.4,1095.1 1641.2,1087.3 1642.5,1064.9 1644.6,1006.6 1646.7,926.1 1647.1,916.2 1647.3,914.3 1647.5,914.3 1648.0,920.9 1648.5,936.9 1650.4,1026.1 1651.5,1059.3 1652.3,1077.4 1653.2,1091.5 1654.2,1100.5 1654.7,1102.8 1655.1,1103.9 1655.6,1103.6 1656.3,1101.2 1657.7,1091.3 1658.6,1079.9 1659.8,1055.8 1660.6,1043.8 1661.6,1034.9 1662.0,1032.8 1662.4,1032.8 1662.7,1034.6 1663.1,1038.4 1665.0,1066.7 1667.7,1098.3 1668.4,1104.1 1669.2,1107.3 1670.2,1109.6 1670.9,1110.4 1672.1,1111.3 1675.0,1114.7 1677.2,1116.4 1679.3,1117.4 1683.9,1118.7 1688.6,1119.6 1693.9,1120.2 1706.5,1121.2 1740.1,1122.7 1750.3,1124.6 1768.9,1127.7 1775.4,1132.2 1777.2,1133.1 1778.2,1133.4 1779.1,1133.3 1780.0,1132.5 1781.0,1129.8 1782.6,1123.5 1783.3,1122.0 1783.8,1122.0 1784.3,1123.2 1786.3,1129.7 1787.1,1132.0 1788.0,1133.7 1789.2,1135.1 1790.1,1136.0 1791.1,1136.6 1793.9,1137.7 1796.3,1138.1 1798.7,1137.9 1800.3,1137.2 1801.9,1136.4 1805.1,1133.9 1807.2,1131.0 1808.8,1127.2 1809.9,1123.2 1810.9,1118.4 1814.1,1092.9 1814.9,1088.8 1815.5,1086.9 1816.0,1087.0 1816.3,1087.6 1817.3,1092.4 1818.9,1104.5 1820.5,1118.4 1821.3,1123.9 1822.5,1129.3 1823.8,1133.3 1825.9,1137.1 1827.0,1138.5 1828.8,1140.2 1831.9,1142.1 1838.6,1145.3 1840.7,1146.5" stroke="#00f" stroke-width="4.4" fill="none" stroke-dasharray="1.5 15.9" stroke-linecap="round" stroke-linejoin="round"/></g><path d="M1451.5,77.2H1532" stroke="#8f8f94" stroke-width="3.3" fill="none" stroke-linejoin="round" /><text x="1553" y="103.7" font-family="Liberation Serif, serif" font-size="73.6">untreated</text><path d="M1450,167.3H1532" stroke="#000" stroke-width="4" fill="none" stroke-dasharray="8.5 7.6 0.1 7.6" stroke-linecap="round" stroke-linejoin="round" stroke-dashoffset="8.0"/><text x="1551.5" y="193.8" font-family="Liberation Serif, serif" font-size="73.6">0.4 %</text><path d="M1450.9,257.0H1527.6" stroke="#f00" stroke-width="4.6" fill="none" stroke-dasharray="8.7 4.8" stroke-linecap="butt" stroke-linejoin="round" /><text x="1551.5" y="283.5" font-family="Liberation Serif, serif" font-size="73.6">0.8 %</text><path d="M1460,347.3H1531.6" stroke="#00f" stroke-width="4.4" fill="none" stroke-dasharray="1.5 15.9" stroke-linecap="round" stroke-linejoin="round" /><text x="1551.5" y="373.8" font-family="Liberation Serif, serif" font-size="73.6">1.2 %</text></svg></body></html>
